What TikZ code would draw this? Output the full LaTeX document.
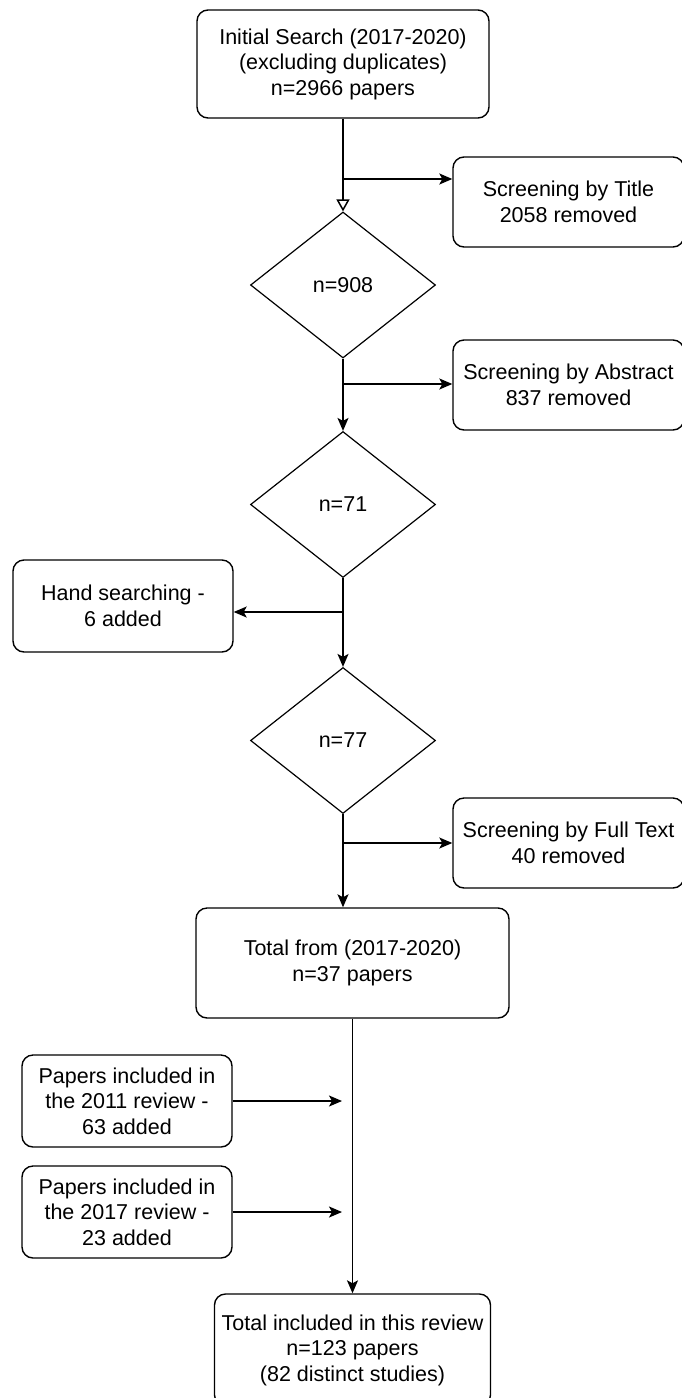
\documentclass[tikz,border=0pt]{standalone}
\usepackage{fontspec}
\setmainfont{Liberation Sans}
\usetikzlibrary{shapes.geometric,arrows.meta}
\begin{document}
\begin{tikzpicture}[x=1pt,y=-1pt,
  every node/.style={font=\fontsize{21.5}{25.5}\selectfont, align=center, inner sep=0pt},
  rbox/.style={draw, line width=1.4pt, rounded corners=11pt},
  dia/.style={draw, line width=1.2pt, diamond, aspect=1.267, minimum width=185pt, minimum height=146pt},
  conn/.style={line width=1.5pt, -{Stealth[length=13pt,width=11pt,inset=3pt]}},
  openconn/.style={line width=1.5pt, -{Triangle[open,length=12pt,width=13pt]}},
  plain/.style={line width=1.4pt}]
\useasboundingbox (0,0) rectangle (682,1398);
\node[rbox, minimum width=292pt, minimum height=108pt] (top) at (343,64) {Initial Search (2017-2020)\\(excluding duplicates)\\n=2966 papers};
\node[rbox, minimum width=231pt, minimum height=90pt] (title) at (568.5,202) {Screening by Title\\2058 removed};
\node[dia] (d1) at (343,285) {n=908};
\node[rbox, minimum width=231pt, minimum height=90pt] (abstract) at (568.5,385) {Screening by Abstract\\837 removed};
\node[dia] (d2) at (343,504.5) {n=71};
\node[rbox, minimum width=220pt, minimum height=92pt] (hand) at (123,606) {Hand searching -\\6 added};
\node[dia] (d3) at (343,740.5) {n=77};
\node[rbox, minimum width=231pt, minimum height=90pt] (full) at (568.5,843) {Screening by Full Text\\40 removed};
\node[rbox, minimum width=313pt, minimum height=110pt] (total) at (352.5,963) {Total from (2017-2020)\\n=37 papers};
\node[rbox, minimum width=210pt, minimum height=92pt] (p2011) at (127,1101) {Papers included in\\the 2011 review -\\63 added};
\node[rbox, minimum width=210pt, minimum height=92pt] (p2017) at (127,1212) {Papers included in\\the 2017 review -\\23 added};
\node[rbox, minimum width=276pt, minimum height=112pt] (final) at (352.5,1350) {Total included in this review\\n=123 papers\\(82 distinct studies)};
\coordinate (b1) at (343,179);
\coordinate (b2) at (343,384);
\coordinate (b3) at (343,612);
\coordinate (b4) at (343,843);
\coordinate (m1) at (342,1101);
\coordinate (m2) at (342,1212);
\draw[openconn] (top.south) -- (d1.north);
\draw[conn] (b1) -- (b1 -| title.west);
\draw[conn] (d1.south) -- (d2.north);
\draw[conn] (b2) -- (b2 -| abstract.west);
\draw[conn] (d2.south) -- (d3.north);
\draw[conn] (b3) -- (b3 -| hand.east);
\draw[conn] (d3.south) -- (d3.south |- total.north);
\draw[conn] (b4) -- (b4 -| full.west);
\draw[conn] (total.south) -- (final.north);
\draw[conn] (p2011.east) -- (m1);
\draw[conn] (p2017.east) -- (m2);
\end{tikzpicture}
\end{document}
